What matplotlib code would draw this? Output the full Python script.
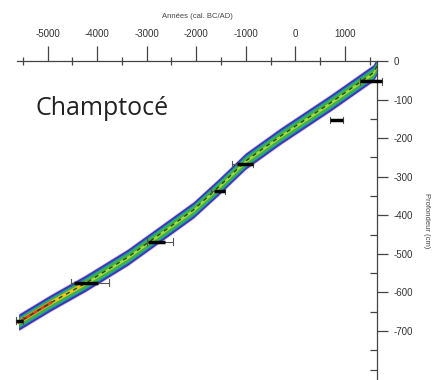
import numpy as np
import matplotlib.pyplot as plt
from matplotlib.ticker import MultipleLocator

# age-depth model (mean curve)
model_year = [1653, 1573, 706, -302, -1008, -1552, -2056, -2823, -3387, -4234, -4940, -5585]
model_depth = [-13, -31, -109, -195, -260, -327, -386, -457, -509, -576, -627, -677]

# dated levels: depth, full range (thin) and thick segment
date_depth = [-52, -153, -267, -337, -469, -575, -673]
date_lo = [1310, 706, -1270, -1694, -3004, -4536, -5645]
date_hi = [1750, 968, -847, -1411, -2460, -3770, -5504]
thick_lo = [1310, 706, -1170, -1650, -2984, -4476, -5645]
thick_hi = [1750, 968, -847, -1411, -2621, -3992, -5504]

x_ticks = [-5000, -4000, -3000, -2000, -1000, 0, 1000]
y_ticks = [0, -100, -200, -300, -400, -500, -600, -700]

plt.rcParams['font.family'] = ['Liberation Sans', 'DejaVu Sans']
plt.rcParams['axes.unicode_minus'] = False
fig = plt.figure(figsize=(4.35, 3.8), dpi=100)
ax = fig.add_axes([0.039, 0.0, 0.828, 0.8395])

yr = np.array(model_year)
dp = np.array(model_depth)
# layered band, outside -> inside
layers = [(23, '#d2b8f0'), (20.5, '#3a2a9a'), (17.5, '#2c4fc0'),
          (14, '#1f9fb0'), (11.5, '#3cb04c'), (4, '#a8d838')]
for w, c in layers:
    ax.fill_between(yr, dp - w, dp + w, color=c, lw=0, zorder=1)
# warm core at the bottom end
ax.plot(yr[-3:], dp[-3:], color='#f0c020', lw=2.5, zorder=2)
ax.plot(yr[-2:], dp[-2:], color='#e04020', lw=2, zorder=2)
ax.plot(yr, dp, color='#1d4a1d', lw=1.0, ls=(0, (3, 3)), zorder=3)

for d, lo, hi, tlo, thi in zip(date_depth, date_lo, date_hi, thick_lo, thick_hi):
    ax.plot([lo, hi], [d, d], color='#555555', lw=0.8, zorder=4, clip_on=False)
    ax.plot([lo, lo], [d - 9, d + 9], color='#555555', lw=0.8, zorder=4, clip_on=False)
    ax.plot([hi, hi], [d - 9, d + 9], color='#555555', lw=0.8, zorder=4, clip_on=False)
    ax.plot([tlo, thi], [d, d], color='black', lw=2.5, zorder=5, clip_on=False,
            solid_capstyle='butt')

ax.set_xlim(-5620, 1653)
ax.set_ylim(-827, 0)
for s in ['left', 'bottom']:
    ax.spines[s].set_visible(False)
for s in ['top', 'right']:
    ax.spines[s].set_color('#444444')
    ax.spines[s].set_linewidth(0.9)

ax.xaxis.tick_top()
ax.xaxis.set_label_position('top')
ax.set_xticks(x_ticks)
ax.xaxis.set_minor_locator(MultipleLocator(500))
ax.tick_params(axis='x', which='major', direction='out', length=11, width=0.9,
               color='#444444', labelsize=7, labelcolor='#333333', pad=5)
ax.tick_params(axis='x', which='minor', direction='inout', length=6, width=0.9,
               color='#444444')

ax.yaxis.tick_right()
ax.yaxis.set_label_position('right')
ax.set_yticks(y_ticks)
ax.yaxis.set_minor_locator(MultipleLocator(50))
ax.tick_params(axis='y', which='major', direction='out', length=8, width=0.9,
               color='#444444', labelsize=7, labelcolor='#333333', pad=4)
ax.tick_params(axis='y', which='minor', direction='in', length=5, width=0.9,
               color='#444444')

ax.set_xlabel('Années (cal. BC/AD)', fontsize=5.5, color='#444444', labelpad=8)
ax.set_ylabel('Profondeur (cm)', fontsize=5.5, color='#444444', rotation=-90,
              labelpad=12)

ax.text(-5250, -122, 'Champtocé', fontsize=18, color='#222222',
        family=['Open Sans', 'DejaVu Sans'], va='center', ha='left')

fig.savefig('out.png', dpi=100)
